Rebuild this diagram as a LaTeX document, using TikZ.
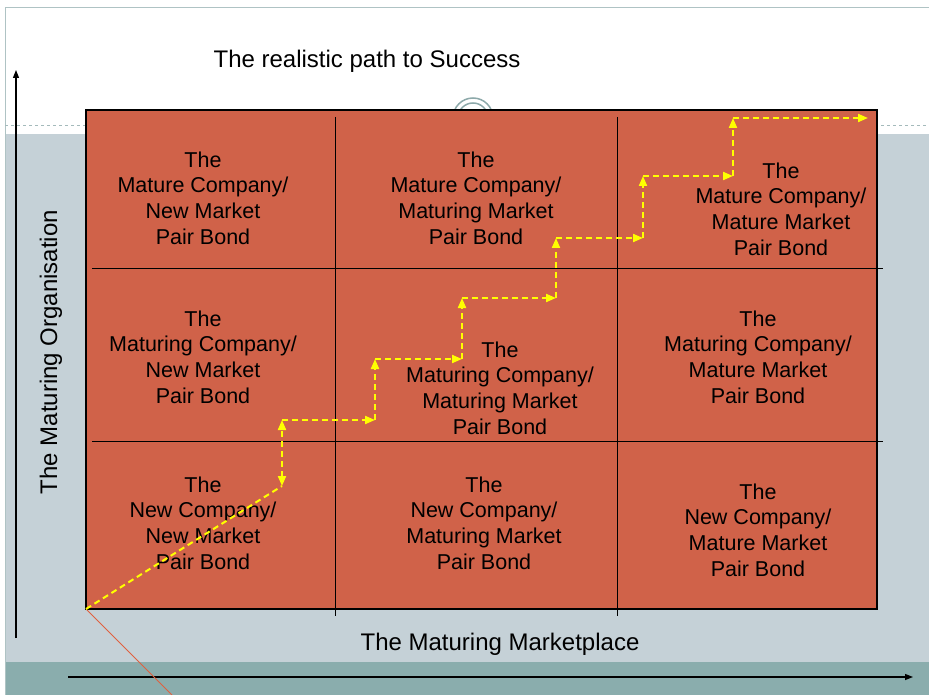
\documentclass[tikz,border=0pt]{standalone}
\usepackage{fontspec}
\setmainfont{Liberation Sans}
\usetikzlibrary{arrows.meta}
\usetikzlibrary{positioning}

\definecolor{cellred}{HTML}{D06249}
\definecolor{paneblue}{HTML}{C5D1D7}
\definecolor{bandteal}{HTML}{8AADAD}
\definecolor{ringgrey}{HTML}{8DA9AA}
\definecolor{pathyellow}{HTML}{FFFF00}
\definecolor{leaderred}{HTML}{E0603F}

\tikzset{
  cell/.style={align=center, inner sep=0pt, font=\fontsize{21.5}{25.7}\selectfont},
  axislabel/.style={inner sep=0pt, font=\fontsize{24}{28}\selectfont},
  stair/.style={pathyellow, line width=2pt, dash pattern=on 6pt off 4pt,
    -{Triangle[length=10pt,width=8pt]}},
  axis/.style={black, line width=1.3pt, -{Triangle[length=8pt,width=6pt]}},
  gridline/.style={black, line width=0.8pt}
}

\begin{document}
\begin{tikzpicture}[x=1pt, y=-1pt]
  \useasboundingbox (0,0) rectangle (929,695);
  % slide background
  \fill[white] (0,0) rectangle (929,695);
  \fill[paneblue] (5,134) rectangle (929,662);
  \fill[bandteal] (5,662) rectangle (929,695);
  \draw[ringgrey!70, line width=0.6pt] (5,695) -- (5,7) -- (929,7);
  \draw[ringgrey!80, dashed, line width=0.8pt] (5,125) -- (929,125);
  \draw[ringgrey, line width=1.5pt] (473,118) circle (20pt) (473,118) circle (15pt);

  % the matrix
  \draw[fill=cellred, line width=1.4pt] (86,110) rectangle (877,609);
  \draw[gridline] (335,117) -- (335,616) (617,117) -- (617,616)
    (92,268) -- (883,268) (92,441) -- (883,441);

  \node[cell] (maturenew) at (203,198) {The\\Mature Company/\\New Market\\Pair Bond};
  \node[cell] (maturematuring) at (476,198) {The\\Mature Company/\\Maturing Market\\Pair Bond};
  \node[cell] (maturemature) at (781,209) {The\\Mature Company/\\Mature Market\\Pair Bond};
  \node[cell] (maturingnew) at (203,357) {The\\Maturing Company/\\New Market\\Pair Bond};
  \node[cell] (maturingmaturing) at (500,388) {The\\Maturing Company/\\Maturing Market\\Pair Bond};
  \node[cell] (maturingmature) at (758,357) {The\\Maturing Company/\\Mature Market\\Pair Bond};
  \node[cell] (newnew) at (203,523) {The\\New Company/\\New Market\\Pair Bond};
  \node[cell] (newmaturing) at (484,523) {The\\New Company/\\Maturing Market\\Pair Bond};
  \node[cell] (newmature) at (758,530) {The\\New Company/\\Mature Market\\Pair Bond};

  % axes and labels
  \coordinate (yfoot) at (16,638);
  \coordinate (ytip) at (16,70);
  \coordinate (xfoot) at (68,677);
  \coordinate (xtip) at (913,677);
  \draw[axis] (yfoot) -- (ytip);
  \draw[axis] (xfoot) -- (xtip);

  \node[axislabel] (title) at (367,61) {The realistic path to Success};
  \node[axislabel] (marketplace) at (500,644) {The Maturing Marketplace};
  \node[axislabel, rotate=90] (organisation) at (51,352) {The Maturing Organisation};

  % the path to success
  \coordinate (s0) at (86,609);
  \coordinate (s1) at (282,486);
  \coordinate (s2) at (282,420);
  \coordinate (s3) at (375,420);
  \coordinate (s4) at (375,359);
  \coordinate (s5) at (462,359);
  \coordinate (s6) at (462,298);
  \coordinate (s7) at (556,298);
  \coordinate (s8) at (556,238);
  \coordinate (s9) at (643,238);
  \coordinate (s10) at (643,176);
  \coordinate (s11) at (733,176);
  \coordinate (s12) at (733,118);
  \coordinate (s13) at (868,118);
  \coordinate (leaderend) at (172,695);

  \draw[leaderred, line width=0.9pt] (s0) -- (leaderend);
  \draw[stair, -] (s0) -- (s1);
  \draw[stair, {Triangle[length=10pt,width=8pt]}-{Triangle[length=10pt,width=8pt]}] (s1) -- (s2);
  \foreach \a/\b in {2/3, 3/4, 4/5, 5/6, 6/7, 7/8, 8/9, 9/10, 10/11, 11/12, 12/13}
    \draw[stair] (s\a) -- (s\b);
\end{tikzpicture}
\end{document}
